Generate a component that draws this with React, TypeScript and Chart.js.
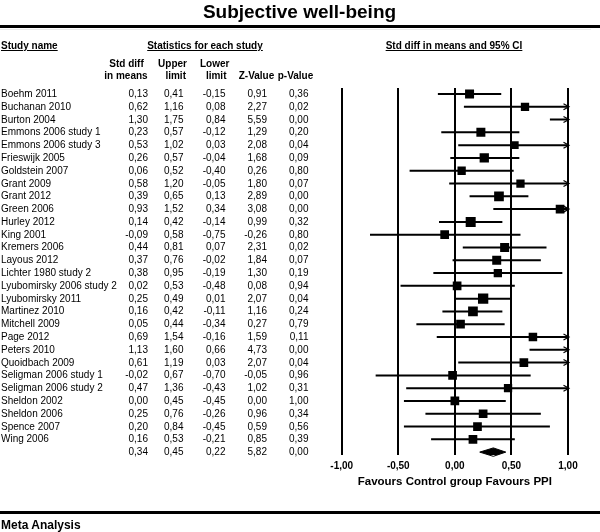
import React, { useEffect, useRef } from 'react';
import { Chart, registerables } from 'chart.js';

Chart.register(...registerables);

// ---------- data ----------
const studies = [
  'Boehm 2011', 'Buchanan 2010', 'Burton 2004', 'Emmons 2006 study 1', 'Emmons 2006 study 3',
  'Frieswijk 2005', 'Goldstein 2007', 'Grant 2009', 'Grant 2012', 'Green 2006', 'Hurley 2012',
  'King 2001', 'Kremers 2006', 'Layous 2012', 'Lichter 1980 study 2', 'Lyubomirsky 2006 study 2',
  'Lyubomirsky 2011', 'Martinez 2010', 'Mitchell 2009', 'Page 2012', 'Peters 2010', 'Quoidbach 2009',
  'Seligman 2006 study 1', 'Seligman 2006 study 2', 'Sheldon 2002', 'Sheldon 2006', 'Spence 2007', 'Wing 2006',
];
const stdDiff = [0.13, 0.62, 1.30, 0.23, 0.53, 0.26, 0.06, 0.58, 0.39, 0.93, 0.14, -0.09, 0.44, 0.37, 0.38, 0.02, 0.25, 0.16, 0.05, 0.69, 1.13, 0.61, -0.02, 0.47, 0.00, 0.25, 0.20, 0.16];
const upperLimit = [0.41, 1.16, 1.75, 0.57, 1.02, 0.57, 0.52, 1.20, 0.65, 1.52, 0.42, 0.58, 0.81, 0.76, 0.95, 0.53, 0.49, 0.42, 0.44, 1.54, 1.60, 1.19, 0.67, 1.36, 0.45, 0.76, 0.84, 0.53];
const lowerLimit = [-0.15, 0.08, 0.84, -0.12, 0.03, -0.04, -0.40, -0.05, 0.13, 0.34, -0.14, -0.75, 0.07, -0.02, -0.19, -0.48, 0.01, -0.11, -0.34, -0.16, 0.66, 0.03, -0.70, -0.43, -0.45, -0.26, -0.45, -0.21];
const zValue = [0.91, 2.27, 5.59, 1.29, 2.08, 1.68, 0.26, 1.80, 2.89, 3.08, 0.99, -0.26, 2.31, 1.84, 1.30, 0.08, 2.07, 1.16, 0.27, 1.59, 4.73, 2.07, -0.05, 1.02, 0.00, 0.96, 0.59, 0.85];
const pValue = [0.36, 0.02, 0.00, 0.20, 0.04, 0.09, 0.80, 0.07, 0.00, 0.00, 0.32, 0.80, 0.02, 0.07, 0.19, 0.94, 0.04, 0.24, 0.79, 0.11, 0.00, 0.04, 0.96, 0.31, 1.00, 0.34, 0.56, 0.39];
// relative weight (%) of each study
const studyWeight = [3.66, 3.11, 3.2, 3.66, 2.68, 3.91, 3.11, 3.11, 4.25, 3.42, 4.52, 3.42, 3.66, 3.66, 3.11, 3.42, 4.8, 4.25, 3.42, 3.27, 3.2, 3.42, 3.42, 3.11, 3.42, 3.42, 3.42, 3.42];
// summary: std diff, upper, lower, z, p
const summaryStats = [0.34, 0.45, 0.22, 5.82, 0.00];
const axisTicks = [-1, -0.5, 0, 0.5, 1];

const TITLE = 'Subjective well-being';
const AXIS_TITLE = 'Favours Control group Favours PPI';

// ---------- layout / style constants ----------
const W = 600;
const H = 532;
const FONT = '"Liberation Sans", Arial, Helvetica, sans-serif';
const ROW_TOP = 94;
const ROW_STEP = 12.79;
const AREA_TOP = 88;
const AREA_BOTTOM = 455;
const AREA_LEFT = 341.7;
const AREA_RIGHT = 568;
const AXIS_H = 40;
const WEIGHT_TO_AREA = 0.0452; // side^2 * k = weight
const DIAMOND_HALF = 0.33; // in rows

const fmt = (v: number) => {
  const s = Number(v).toFixed(2).replace('.', ',');
  return s === '-0,00' ? '0,00' : s;
};

const rowY = (i: number) => ROW_TOP + ROW_STEP * i;

type TxtProps = {
  text: string;
  x: number;
  y: number;
  align?: 'left' | 'right' | 'center';
  size?: number;
  bold?: boolean;
  underline?: boolean;
};

function Txt({ text, x, y, align = 'left', size = 10, bold = false, underline = false }: TxtProps) {
  const L = Math.round(size * 1.2);
  const w = 300;
  let left = x;
  if (align === 'right') left = x - w;
  if (align === 'center') left = x - w / 2;
  return (
    <div
      style={{
        position: 'absolute',
        left,
        top: y - L / 2,
        width: w,
        height: L,
        lineHeight: L + 'px',
        fontSize: size,
        fontWeight: bold ? 700 : 400,
        textAlign: align,
        textDecoration: underline ? 'underline' : 'none',
        whiteSpace: 'nowrap',
        fontFamily: FONT,
        color: '#000',
      }}
    >
      {text}
    </div>
  );
}

const COLS = [148, 183.5, 225.5, 267, 308.5];

export default function App() {
  const canvasRef = useRef<HTMLCanvasElement | null>(null);

  useEffect(() => {
    if (!canvasRef.current) return;
    const xMax = axisTicks[axisTicks.length - 1];
    const xMin = axisTicks[0];
    const summaryRow = studies.length;

    const squares = studies.map((_, i) => ({ x: stdDiff[i], y: i }));
    const squareRadius = studyWeight.map((w) => Math.sqrt(w / WEIGHT_TO_AREA) / Math.SQRT2);
    const ciData: { x: number | null; y: number | null }[] = [];
    studies.forEach((_, i) => {
      ciData.push({ x: lowerLimit[i], y: i }, { x: upperLimit[i], y: i }, { x: null, y: null });
    });
    const [sMean, sUpper, sLower] = summaryStats;
    const diamond = [
      { x: sLower, y: summaryRow },
      { x: sMean, y: summaryRow - DIAMOND_HALF },
      { x: sUpper, y: summaryRow },
      { x: sMean, y: summaryRow + DIAMOND_HALF },
      { x: sLower, y: summaryRow },
    ];

    const arrowPlugin = {
      id: 'ciArrows',
      afterDatasetsDraw(chart: any) {
        const { ctx, scales } = chart;
        const xs = scales.x;
        const ys = scales.y;
        ctx.save();
        ctx.strokeStyle = '#000';
        ctx.lineWidth = 1.2;
        studies.forEach((_, i) => {
          if (upperLimit[i] > xMax) {
            const px = xs.getPixelForValue(xMax) + 1;
            const py = ys.getPixelForValue(i);
            ctx.beginPath();
            ctx.moveTo(px - 5.5, py - 3);
            ctx.lineTo(px, py);
            ctx.lineTo(px - 5.5, py + 3);
            ctx.stroke();
          }
        });
        ctx.restore();
      },
    };

    const chart = new Chart(canvasRef.current, {
      type: 'line',
      data: {
        datasets: [
          {
            label: 'Std diff in means',
            data: squares,
            showLine: false,
            pointStyle: 'rect',
            pointRadius: squareRadius,
            pointHoverRadius: squareRadius,
            pointBackgroundColor: '#000',
            pointBorderColor: '#000',
            pointBorderWidth: 0,
            clip: 0,
            order: 0,
          } as any,
          {
            label: '95% CI',
            data: ciData,
            borderColor: '#000',
            borderWidth: 2,
            pointRadius: 0,
            spanGaps: false,
            fill: false,
            clip: 0,
            order: 1,
          } as any,
          {
            label: 'Summary',
            data: diamond,
            borderColor: '#000',
            backgroundColor: '#000',
            borderWidth: 1,
            pointRadius: 0,
            fill: 'shape',
            clip: false,
            order: 2,
          } as any,
        ],
      },
      options: {
        responsive: false,
        animation: false,
        events: [],
        parsing: undefined as any,
        layout: {
          padding: {
            left: AREA_LEFT,
            right: W - AREA_RIGHT,
            top: AREA_TOP,
            bottom: H - AREA_BOTTOM - AXIS_H,
          },
        },
        plugins: {
          legend: { display: false },
          tooltip: { enabled: false },
          title: { display: false },
        },
        scales: {
          x: {
            type: 'linear',
            position: 'bottom',
            min: xMin,
            max: xMax,
            afterFit: (s: any) => {
              s.height = AXIS_H;
            },
            afterBuildTicks: (s: any) => {
              s.ticks = axisTicks.map((v) => ({ value: v }));
            },
            ticks: {
              color: '#000',
              padding: 5,
              maxRotation: 0,
              autoSkip: false,
              font: { family: FONT, size: 10, weight: 'bold' },
              callback: (v: any) => fmt(Number(v)),
            },
            grid: { color: '#000', lineWidth: 2, drawTicks: false },
            border: { display: false },
            title: {
              display: true,
              text: AXIS_TITLE,
              color: '#000',
              font: { family: FONT, size: 11.5, weight: 'bold' },
              padding: { top: 0, bottom: 6 },
            },
          } as any,
          y: {
            type: 'linear',
            display: false,
            reverse: true,
            min: (AREA_TOP - ROW_TOP) / ROW_STEP,
            max: (AREA_BOTTOM - ROW_TOP) / ROW_STEP,
          },
        },
      },
      plugins: [arrowPlugin],
    });

    return () => chart.destroy();
  }, []);

  const summaryRow = studies.length;

  return (
    <div style={{ position: 'absolute', left: 0, top: 0, width: W, height: H, background: '#fff', overflow: 'hidden' }}>
      <canvas ref={canvasRef} width={W} height={H} style={{ position: 'absolute', left: 0, top: 0, width: W, height: H }} />
      <div style={{ position: 'absolute', left: 0, top: 0, width: W, height: H, pointerEvents: 'none' }}>
        <Txt text={TITLE} x={299.5} y={11} align="center" size={19} bold />
        <div style={{ position: 'absolute', left: 0, top: 25, width: W, height: 3, background: '#000' }} />
        <div style={{ position: 'absolute', left: 0, top: 29, width: 591, height: 1, background: '#ececec' }} />

        <Txt text="Study name" x={1} y={46} bold underline />
        <Txt text="Statistics for each study" x={205} y={46} align="center" bold underline />
        <Txt text="Std diff in means and 95% CI" x={454} y={46} align="center" bold underline />

        <Txt text="Std diff" x={126.5} y={64.3} align="center" bold />
        <Txt text="in means" x={126} y={75.8} align="center" bold />
        <Txt text="Upper" x={172.5} y={64.3} align="center" bold />
        <Txt text="limit" x={175.7} y={75.8} align="center" bold />
        <Txt text="Lower" x={214.7} y={64.3} align="center" bold />
        <Txt text="limit" x={216.2} y={75.8} align="center" bold />
        <Txt text="Z-Value" x={256.5} y={75.8} align="center" bold />
        <Txt text="p-Value" x={295.5} y={75.8} align="center" bold />

        {studies.map((name, i) => {
          const y = rowY(i);
          const vals = [stdDiff[i], upperLimit[i], lowerLimit[i], zValue[i], pValue[i]];
          return (
            <React.Fragment key={name}>
              <Txt text={name} x={1} y={y} />
              {vals.map((v, j) => (
                <Txt key={j} text={fmt(v)} x={COLS[j]} y={y} align="right" />
              ))}
            </React.Fragment>
          );
        })}
        {summaryStats.map((v, j) => (
          <Txt key={'s' + j} text={fmt(v)} x={COLS[j]} y={rowY(summaryRow)} align="right" />
        ))}

        <div style={{ position: 'absolute', left: 0, top: 511, width: W, height: 3, background: '#000' }} />
        <Txt text="Meta Analysis" x={1} y={525} size={12} bold />
      </div>
    </div>
  );
}
